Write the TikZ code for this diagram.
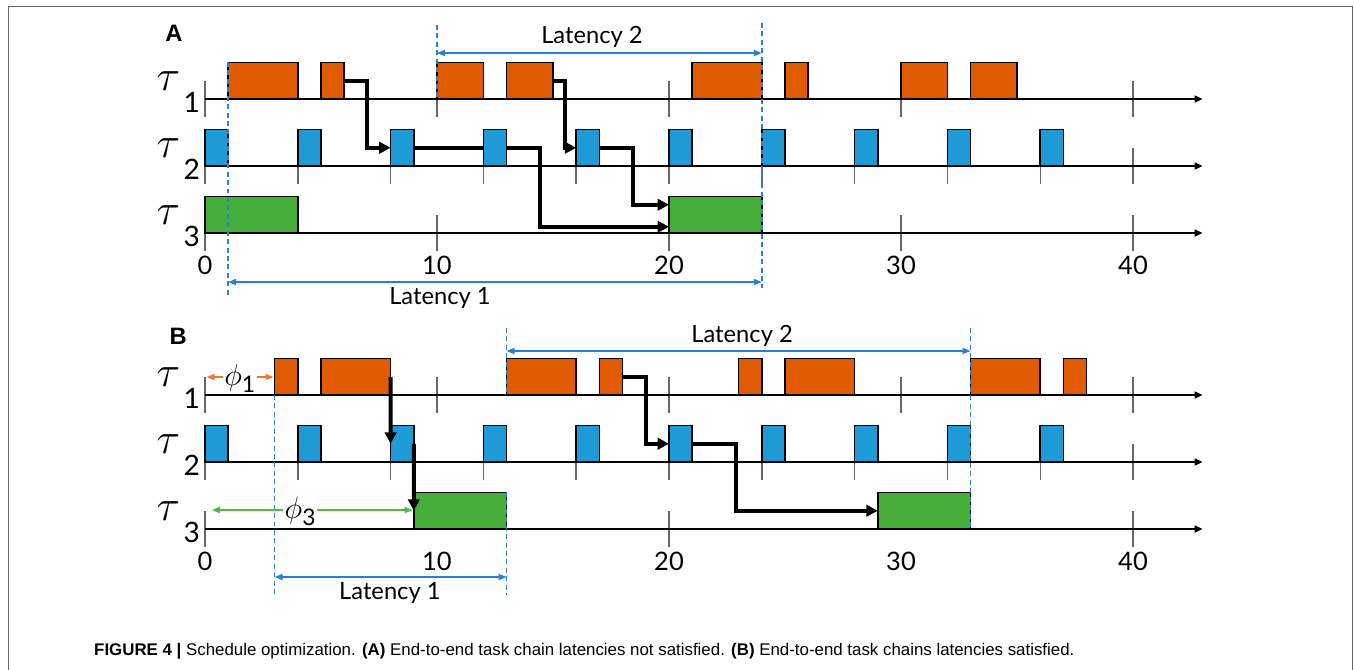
\documentclass[tikz,border=0pt]{standalone}
\usepackage{fontspec}
\setsansfont{Lato}
\newfontfamily\capfont{Liberation Sans}
\usetikzlibrary{arrows.meta,calc}

\definecolor{taskorange}{HTML}{E05A00}
\definecolor{taskblue}{HTML}{1E9AD6}
\definecolor{taskgreen}{HTML}{46AF3C}
\definecolor{latblue}{HTML}{2A7FD5}
\definecolor{phiorange}{HTML}{EE7A30}
\definecolor{phigreen}{HTML}{4DBB40}

\newcommand{\sublab}[1]{\raisebox{-13pt}{\sffamily\fontsize{16}{16}\selectfont #1}}
\newcommand{\phisub}[1]{\raisebox{-4pt}{\sffamily\fontsize{13}{13}\selectfont #1}}

\begin{document}
\begin{tikzpicture}[x=4.64mm, y=-0.2mm]
        \tikzstyle{job} = [draw=black, line width=0.9pt, minimum height=7.3mm, inner sep=0pt, outer sep=0pt, anchor=south west]
        \tikzstyle{job 1} = [job, fill=taskorange]
        \tikzstyle{job 2} = [job, fill=taskblue, minimum width=4.64mm]
        \tikzstyle{job 3} = [job, fill=taskgreen]
        \tikzstyle{time axis} = [-{Triangle[length=4.5pt,width=4pt]}, line width=0.75pt]
        \tikzstyle{tick} = [draw=black!60, line width=0.8pt]
        \tikzstyle{tick label} = [font=\sffamily\fontsize{14.5}{15}\selectfont]
        \tikzstyle{task label} = [anchor=base west, inner sep=0pt, font=\fontsize{24}{24}\selectfont]
        \tikzstyle{panel label} = [font=\capfont\bfseries\fontsize{13.5}{14}\selectfont]
        \tikzstyle{chain} = [-{Triangle[length=6.5pt,width=6.5pt]}, line width=2.3pt]
        \tikzstyle{latency} = [{Triangle[length=4.5pt,width=3.5pt]}-{Triangle[length=4.5pt,width=3.5pt]}, draw=latblue, line width=0.7pt]
        \tikzstyle{lat label} = [font=\sffamily\fontsize{13.5}{15}\selectfont]
        \tikzstyle{marker} = [draw=latblue, dash pattern=on 2.8pt off 2pt, line width=0.8pt]
        \tikzstyle{phase} = [{Triangle[length=4.5pt,width=3.5pt]}-{Triangle[length=4.5pt,width=3.5pt]}, line width=0.8pt]
        \tikzstyle{phase label} = [fill=white, inner sep=1pt, font=\fontsize{19}{19}\selectfont]

        \useasboundingbox (-8.836,0) rectangle (49.526,670);
        \draw[black!60, line width=1.1pt] (-8.47,670) -- (-8.47,6.5) -- (49.46,6.5) -- (49.46,670);

        % ticks and time axes
        \foreach \y in {99,233,395}
            \foreach \t in {0,10,...,40}
                \draw[tick] (\t,\y-18) -- (\t,\y+18);
        \foreach \y in {166,462}
            \foreach \t in {0,4,...,40}
                \draw[tick] (\t,\y-18) -- (\t,\y+18);
        \foreach \t in {0,20,40}
            \draw[tick] (\t,511) -- (\t,547);
        \foreach \y in {99,166,233,395,462,529}
            \draw[time axis] (0,\y) -- (43,\y);

        \foreach \t in {0,10,...,40} {
            \node[tick label] (A-lab\t) at (\t,265) {\t};
            \node[tick label] (B-lab\t) at (\t,561) {\t};
        }

        % row labels
        \node[panel label] (A-title) at (-1.34,33) {A};
        \node[panel label] (B-title) at (-1.16,336) {B};
        \foreach \p/\y in {A/0,B/296} {
            \node[task label] (\p-tau1) at (-2.1,90+\y) {$\tau$\hspace{2pt}\sublab{1}};
            \node[task label] (\p-tau2) at (-2.1,157+\y) {$\tau$\hspace{2pt}\sublab{2}};
            \node[task label] (\p-tau3) at (-2.1,224+\y) {$\tau$\hspace{2pt}\sublab{3}};
        }

        % schedule A
        \foreach \s/\e [count=\i] in {1/4,5/6,10/12,13/15,21/24,25/26,30/32,33/35}
            \node[job 1, minimum width=(\e-\s)*4.64mm] (A1-\i) at (\s,99) {};
        \foreach \s [count=\i] in {0,4,...,36}
            \node[job 2] (A2-\i) at (\s,166) {};
        \foreach \s/\e [count=\i] in {0/4,20/24}
            \node[job 3, minimum width=(\e-\s)*4.64mm] (A3-\i) at (\s,233) {};

        \draw[chain] (A1-2.east) -- ++(1,0) |- (A2-3.west);
        \draw[chain, -] (A2-3.east) -- (A2-4.west);
        \draw[chain] (A2-4.east) -- ++(1.45,0) |- ($(A3-2.west)+(0,12)$);
        \draw[chain] (A1-4.east) -- ++(0.5,0) |- (A2-5.west);
        \draw[chain] (A2-5.east) -- ++(1.45,0) |- ($(A3-2.west)+(0,-10)$);

        \draw[marker] (1,62) -- (1,295);
        \draw[marker] (10,25) -- (10,99);
        \draw[marker] (24,23) -- (24,288);
        \draw[latency] (10,53) -- (24,53);
        \draw[latency] (1,282) -- (24,282);
        \node[lat label] (A-lat2) at (16.68,37) {Latency 2};
        \node[lat label] (A-lat1) at (10.13,298) {Latency 1};

        % schedule B
        \foreach \s/\e [count=\i] in {3/4,5/8,13/16,17/18,23/24,25/28,33/36,37/38}
            \node[job 1, minimum width=(\e-\s)*4.64mm] (B1-\i) at (\s,395) {};
        \foreach \s [count=\i] in {0,4,...,36}
            \node[job 2] (B2-\i) at (\s,462) {};
        \foreach \s/\e [count=\i] in {9/13,29/33}
            \node[job 3, minimum width=(\e-\s)*4.64mm] (B3-\i) at (\s,529) {};

        \draw[chain] (B1-2.east) -- (B2-3.west);
        \draw[chain] (B2-3.east) -- (B3-1.west);
        \draw[chain] (B1-4.east) -- ++(1,0) |- (B2-6.west);
        \draw[chain] (B2-6.east) -- ++(1.9,0) |- (B3-2.west);

        \draw[marker] (3,395) -- (3,595);
        \draw[marker] (13,328) -- (13,395);
        \draw[marker] (13,492) -- (13,595);
        \draw[marker] (33,328) -- (33,529);
        \draw[latency] (13,351) -- (33,351);
        \draw[latency] (3,577) -- (13,577);
        \node[lat label] (B-lat2) at (23.15,336) {Latency 2};
        \node[lat label] (B-lat1) at (7.97,593) {Latency 1};

        \draw[phase, draw=phiorange] (0.07,377) -- (2.95,377);
        \node[phase label] (B-phi1) at (1.5,378) {$\phi$\phisub{1}};
        \draw[phase, draw=phigreen] (0.3,510) -- (8.95,510);
        \node[phase label] (B-phi3) at (4.1,512) {$\phi$\phisub{3}};

        \node[anchor=base west, inner sep=0pt, font=\capfont\fontsize{9.6}{11}\selectfont] (caption) at (-4.79,655)
            {\textbf{FIGURE 4 |} Schedule optimization. \textbf{(A)} End-to-end task chain latencies not satisfied. \textbf{(B)} End-to-end task chains latencies satisfied.};
\end{tikzpicture}
\end{document}
